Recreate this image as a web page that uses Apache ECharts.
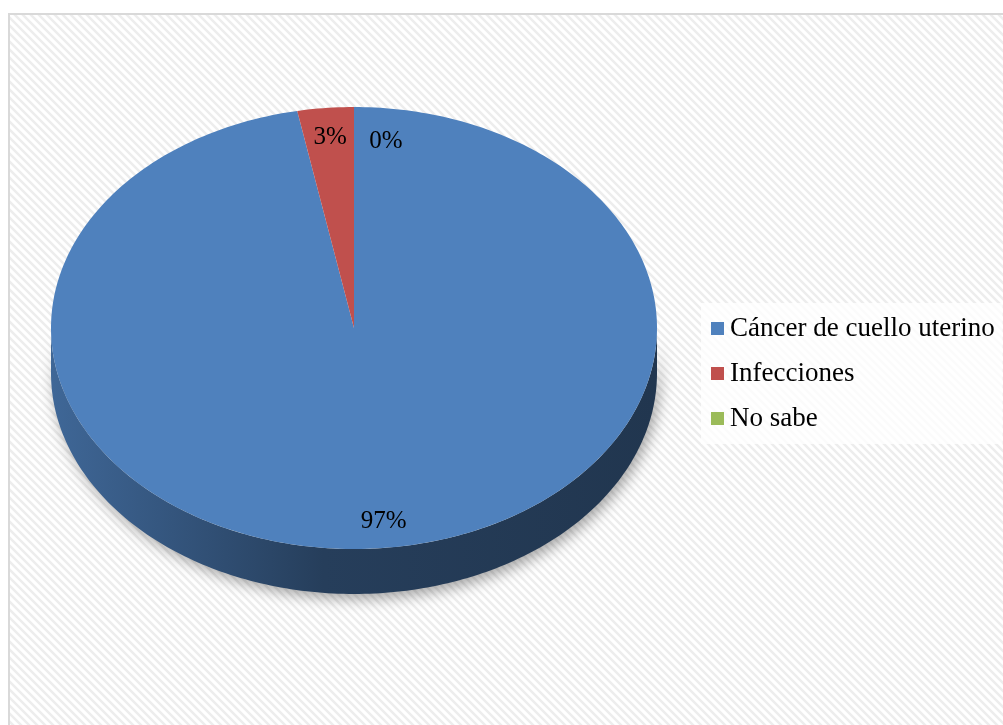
<!DOCTYPE html>
<html>
<head>
<meta charset="utf-8">
<script src="https://cdn.jsdelivr.net/npm/echarts@6/dist/echarts.min.js"></script>
<style>
html, body { margin: 0; padding: 0; background: #fff; }
#main { width: 1003px; height: 725px; }
</style>
</head>
<body>
<div id="main"></div>
<script>
// datos del gráfico
const categories = ['Cáncer de cuello uterino', 'Infecciones', 'No sabe'];
const values = [97, 3, 0];
const colors = ['#4f81bd', '#c0504d', '#9bbb59'];

// geometría de la torta 3D (elipse + grosor)
const cx = 354, cy = 328, rx = 303, ry = 221, depth = 45;
const labelRadius = 0.868;
const labelNudge = [[5, 2], [1, 0], [32, 5]]; // como Excel separa las etiquetas
const total = values.reduce((a, b) => a + b, 0);

function pt(deg, dy) {
	const r = deg * Math.PI / 180;
	return [cx + rx * Math.sin(r), cy - ry * Math.cos(r) + (dy || 0)];
}
function arc(a0, a1, dy) {
	const pts = [];
	const n = Math.max(2, Math.ceil(Math.abs(a1 - a0)));
	for (let k = 0; k <= n; k++) pts.push(pt(a0 + (a1 - a0) * k / n, dy));
	return pts;
}
// oscurecer un color hex (f = factor 0..1)
function darken(hex, f) {
	const n = parseInt(hex.slice(1), 16);
	const r = Math.round(((n >> 16) & 255) * f);
	const g = Math.round(((n >> 8) & 255) * f);
	const b = Math.round((n & 255) * f);
	return 'rgb(' + r + ',' + g + ',' + b + ')';
}

// fondo rayado
function hatch() {
	const c = document.createElement('canvas');
	c.width = 8; c.height = 8;
	const g = c.getContext('2d');
	g.fillStyle = '#fff';
	g.fillRect(0, 0, 8, 8);
	g.strokeStyle = '#ededed';
	g.lineWidth = 2.5;
	g.beginPath();
	g.moveTo(-2, -2); g.lineTo(10, 10);
	g.moveTo(-2, 6); g.lineTo(2, 10);
	g.moveTo(6, -2); g.lineTo(10, 2);
	g.stroke();
	return c;
}

function renderSlice(params, api) {
	const i = params.seriesIndex;
	const v = api.value(0);
	let start = 0;
	for (let k = 0; k < i; k++) start += values[k];
	const a0 = start / total * 360, a1 = (start + v) / total * 360;
	const base = colors[i];
	const children = [];

	// pared lateral, sólo la mitad delantera (90°..270°)
	const s0 = Math.max(a0, 90), s1 = Math.min(a1, 270);
	if (s1 > s0) {
		children.push({
			type: 'polygon',
			shape: { points: arc(s0, s1, 0).concat(arc(s1, s0, depth)) },
			style: {
				fill: {
					type: 'linear', x: 0, y: 0, x2: 1, y2: 0,
					colorStops: [
						{ offset: 0, color: darken(base, 0.8) },
						{ offset: 0.2, color: darken(base, 0.66) },
						{ offset: 0.45, color: darken(base, 0.48) },
						{ offset: 1, color: darken(base, 0.42) }
					]
				},
				shadowBlur: 14,
				shadowOffsetX: 3,
				shadowOffsetY: 5,
				shadowColor: 'rgba(0,0,0,0.35)'
			},
			z2: 0
		});
	}
	// cara superior
	if (a1 > a0) {
		children.push({
			type: 'polygon',
			shape: { points: [[cx, cy]].concat(arc(a0, a1, 0)) },
			style: { fill: base },
			z2: 1
		});
	}
	// etiqueta
	const p = pt((a0 + a1) / 2, 0);
	children.push({
		type: 'text',
		x: cx + (p[0] - cx) * labelRadius + labelNudge[i][0],
		y: cy + (p[1] - cy) * labelRadius + labelNudge[i][1],
		style: {
			text: Math.round(v / total * 100) + '%',
			font: '25px "Liberation Serif"',
			fill: '#000',
			align: 'center',
			verticalAlign: 'middle'
		},
		z2: 5
	});
	return { type: 'group', children };
}

const chart = echarts.init(document.getElementById('main'));
chart.setOption({
	animation: false,
	backgroundColor: '#fff',
	graphic: [{
		type: 'rect',
		silent: true,
		z: 0,
		shape: { x: 9, y: 14, width: 1000, height: 720 },
		style: { fill: { image: hatch(), repeat: 'repeat' }, stroke: '#d9d9d9', lineWidth: 2 }
	}],
	legend: {
		orient: 'vertical',
		left: 701,
		top: 303,
		padding: [12, 8, 12, 10],
		itemWidth: 13,
		itemHeight: 13,
		itemGap: 18,
		icon: 'rect',
		backgroundColor: 'rgba(255,255,255,0.75)',
		data: categories,
		textStyle: { fontFamily: 'Liberation Serif', fontSize: 27, color: '#000', padding: [0, 0, 0, 1] }
	},
	series: categories.map((name, i) => ({
		type: 'custom',
		name: name,
		coordinateSystem: 'none',
		itemStyle: { color: colors[i] },
		renderItem: renderSlice,
		data: [[values[i]]]
	}))
});
window.addEventListener('resize', function () {
	chart.resize();
});
</script>
</body>
</html>
